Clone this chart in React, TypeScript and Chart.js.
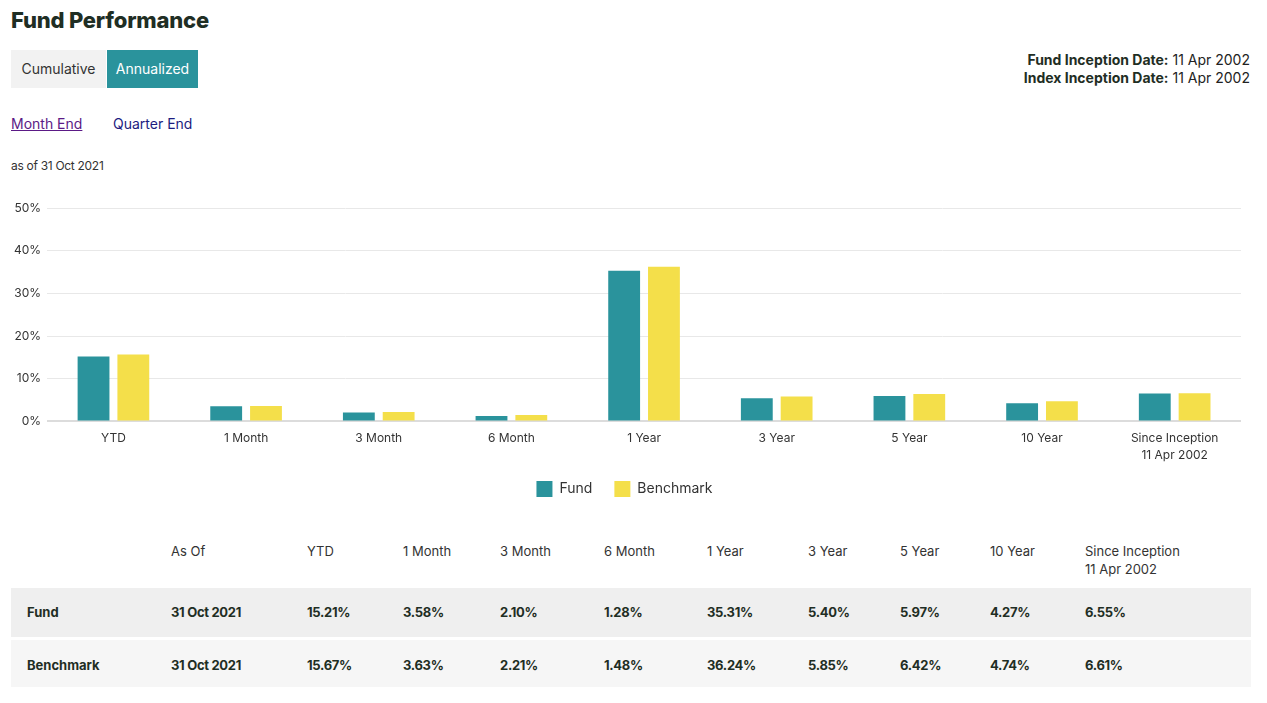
import React, { useEffect, useRef } from "react";
import { Chart, registerables } from "chart.js";

Chart.register(...registerables);

const categories: (string | string[])[] = [
  "YTD", "1 Month", "3 Month", "6 Month", "1 Year", "3 Year", "5 Year", "10 Year", ["Since Inception", "11 Apr 2002"],
];
const tableHeaders = ["YTD", "1 Month", "3 Month", "6 Month", "1 Year", "3 Year", "5 Year", "10 Year", "Since Inception"];
const fundValues = [15.21, 3.58, 2.1, 1.28, 35.31, 5.4, 5.97, 4.27, 6.55];
const benchmarkValues = [15.67, 3.63, 2.21, 1.48, 36.24, 5.85, 6.42, 4.74, 6.61];
const yTicks = [0, 10, 20, 30, 40, 50];
const asOfDate = "31 Oct 2021";
const inceptionDate = "11 Apr 2002";

const TEAL = "#2A939C";
const YELLOW = "#F4DF4A";
const FONT = "Inter, 'Noto Sans', sans-serif";
const colX = [171, 307, 403, 500, 604, 707, 808, 900, 990, 1085];

const legendShift = {
  id: "legendShift",
  afterLayout(chart: any) {
    const l = chart.legend;
    if (l) {
      l.top -= 14;
      l.bottom -= 14;
    }
  },
};

function PerfChart() {
  const ref = useRef<HTMLCanvasElement | null>(null);
  useEffect(() => {
    if (!ref.current) return;
    const chart = new Chart(ref.current, {
      type: "bar",
      data: {
        labels: categories,
        datasets: [
          { label: "Fund", data: fundValues, backgroundColor: TEAL, categoryPercentage: 0.6, barPercentage: 0.8 },
          { label: "Benchmark", data: benchmarkValues, backgroundColor: YELLOW, categoryPercentage: 0.6, barPercentage: 0.8 },
        ],
      },
      plugins: [legendShift],
      options: {
        animation: false,
        responsive: false,
        maintainAspectRatio: false,
        layout: { padding: { top: 6, right: 12, left: 0, bottom: 0 } },
        plugins: {
          legend: {
            position: "bottom",
            labels: {
              boxWidth: 16,
              boxHeight: 16,
              padding: 22,
              color: "#333",
              font: { family: FONT, size: 14 },
            },
          },
          tooltip: { enabled: false },
        },
        scales: {
          x: {
            grid: { display: false, drawTicks: false },
            border: { display: false },
            ticks: { color: "#333", font: { family: FONT, size: 12, lineHeight: 1.4 }, padding: 9, maxRotation: 0 },
          },
          y: {
            min: 0,
            max: 50,
            afterBuildTicks: (ax: any) => {
              ax.ticks = yTicks.map((v) => ({ value: v }));
            },
            grid: {
              drawTicks: false,
              color: (ctx: any) => (ctx.tick && ctx.tick.value === 0 ? "#dcdcdc" : "#e8e8e8"),
              lineWidth: (ctx: any) => (ctx.tick && ctx.tick.value === 0 ? 2 : 1),
            },
            border: { display: false },
            ticks: {
              color: "#333",
              font: { family: FONT, size: 12 },
              padding: 6,
              callback: (v: any) => v + "%",
            },
          },
        },
      },
    });
    return () => chart.destroy();
  }, []);
  return <canvas ref={ref} width={1245} height={326} style={{ width: 1245, height: 326 }} />;
}

export default function App() {
  const abs = (top: number, left: number, extra: React.CSSProperties = {}): React.CSSProperties => ({
    position: "absolute",
    top,
    left,
    ...extra,
  });
  return (
    <div style={{ position: "relative", width: 1251, height: 695, fontFamily: FONT, color: "#333", margin: -8 }}>
      <div style={abs(7, 11, { fontSize: 22, fontWeight: 800, color: "#1f2e24", letterSpacing: -0.2 })}>Fund Performance</div>
      <div style={abs(50, 11, { width: 95, height: 38, background: "#f2f2f2", fontSize: 14, lineHeight: "38px", textAlign: "center", color: "#333" })}>
        Cumulative
      </div>
      <div style={abs(50, 107, { width: 91, height: 38, background: "#2A939C", fontSize: 14, lineHeight: "38px", textAlign: "center", color: "#fff" })}>
        Annualized
      </div>
      <div style={abs(51, 900, { width: 350, textAlign: "right", fontSize: 14, lineHeight: "18px", color: "#222" })}>
        <div>
          <b style={{ color: "#1f2e24" }}>Fund Inception Date:</b> {inceptionDate}
        </div>
        <div>
          <b style={{ color: "#1f2e24" }}>Index Inception Date:</b> {inceptionDate}
        </div>
      </div>
      <div style={abs(115, 11, { fontSize: 14, color: "#5b1a86", textDecoration: "underline" })}>Month End</div>
      <div style={abs(115, 113, { fontSize: 14, color: "#1c1c80" })}>Quarter End</div>
      <div style={abs(158, 11, { fontSize: 12, color: "#333", letterSpacing: -0.3 })}>as of {asOfDate}</div>
      <div style={abs(195, 8)}>
        <PerfChart />
      </div>
      <div style={abs(538, 11, { width: 1240, height: 48, fontSize: 13, color: "#333" })}>
        {["As Of", ...tableHeaders].map((h, i) => (
          <div key={i} style={{ position: "absolute", left: colX[i] - 11, top: 4, lineHeight: "18px" }}>
            {h}
            {h === "Since Inception" ? (
              <>
                <br />
                {inceptionDate}
              </>
            ) : null}
          </div>
        ))}
      </div>
      {[
        { name: "Fund", vals: fundValues, bg: "#efefef", top: 588, h: 49 },
        { name: "Benchmark", vals: benchmarkValues, bg: "#f6f6f6", top: 640, h: 50 },
      ].map((row) => (
        <div key={row.name} style={abs(row.top, 11, { width: 1240, height: row.h, background: row.bg, fontSize: 13, fontWeight: 700, color: "#1f2e24" })}>
          <div style={{ position: "absolute", left: 16, top: 0, lineHeight: row.h + "px" }}>{row.name}</div>
          {[asOfDate, ...row.vals.map((v) => v.toFixed(2) + "%")].map((t, i) => (
            <div key={i} style={{ position: "absolute", left: colX[i] - 11, top: 0, lineHeight: row.h + "px", letterSpacing: -0.3 }}>
              {t}
            </div>
          ))}
        </div>
      ))}
    </div>
  );
}
